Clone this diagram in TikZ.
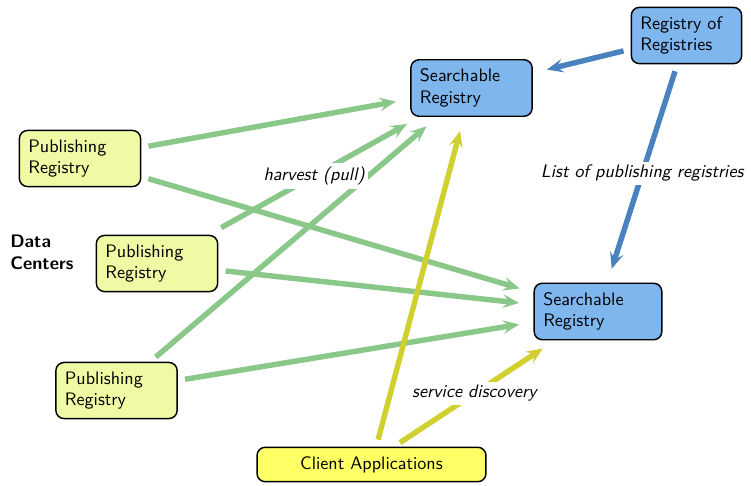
\documentclass[tikz,border=0pt]{standalone}
\usetikzlibrary{arrows.meta}
\definecolor{pubfill}{RGB}{240,250,165}
\definecolor{regfill}{RGB}{127,182,238}
\definecolor{clientfill}{RGB}{255,255,102}
\definecolor{harvestgreen}{RGB}{138,200,138}
\definecolor{listblue}{RGB}{74,130,192}
\definecolor{discoveryyellow}{RGB}{208,208,48}
\tikzset{
  box/.style={draw, thick, rounded corners=4.5pt, inner sep=5pt, align=left},
  pubreg/.style={box, fill=pubfill, text width=57pt},
  searchreg/.style={box, fill=regfill, text width=57pt},
  client/.style={box, fill=clientfill, minimum width=126.5pt, align=center},
  link/.style={line width=3pt, -{Stealth[length=9pt,width=7.5pt,inset=3.5pt]},
    shorten <=4pt, shorten >=8pt},
  tag/.style={fill=white, font=\sffamily\slshape, inner sep=2pt}
}
\begin{document}
\begin{tikzpicture}[x=0.5526pt, y=-0.5526pt, font=\sffamily]
  \useasboundingbox (0,0) rectangle (751,485);
  % the registries
  \node[pubreg] (p1) at (80,158.5) {Publishing\\Registry};
  \node[pubreg] (p2) at (157,263.5) {Publishing\\Registry};
  \node[pubreg] (p3) at (116.5,390.5) {Publishing\\Registry};
  \node[searchreg] (s1) at (471.5,88) {Searchable\\Registry};
  \node[searchreg, text width=60.5pt] (s2) at (598,311.5) {Searchable\\Registry};
  \node[searchreg, text width=51pt] (ror) at (686.5,35.5) {Registry of\\Registries};
  \node[client] (cl) at (371.5,464.5) {Client Applications};
  \node[font=\sffamily\bfseries, align=left, anchor=west, inner sep=0pt]
    (dc) at (10,252) {Data\\Centers};
  % harvesting
  \begin{scope}[link, harvestgreen]
    \draw (p1) to (s1);
    \draw (p1) to (s2);
    \draw (p3) to (s1);
    \draw[shorten <=8pt] (p2) to node[tag, text=black] {harvest (pull)} (s1);
    \draw (p2) to (s2);
    \draw (p3) to (s2);
  \end{scope}
  % registry of registries
  \begin{scope}[link, listblue]
    \draw (ror) to (s1);
    \draw (ror) to node[tag, text=black] {List of publishing registries} (s2);
  \end{scope}
  % clients
  \begin{scope}[link, discoveryyellow]
    \draw (cl) to (s1);
    \draw ([xshift=12.4pt]cl.north) to node[tag, text=black] {service discovery}
      ([xshift=-23.8pt]s2.south);
  \end{scope}
\end{tikzpicture}
\end{document}
